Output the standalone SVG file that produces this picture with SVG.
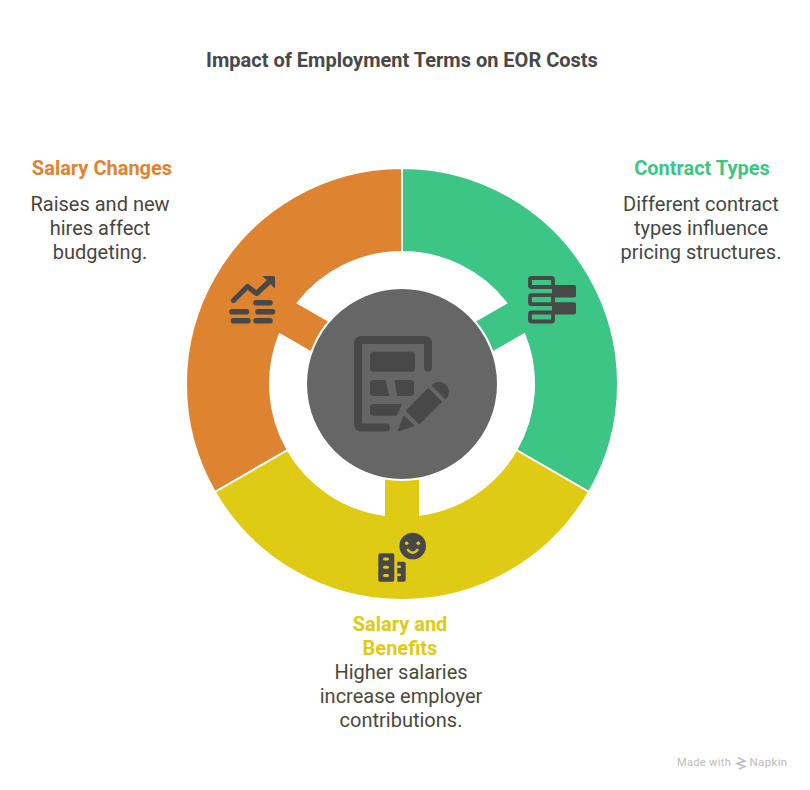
<svg xmlns="http://www.w3.org/2000/svg" width="810" height="790" viewBox="0 0 810 790">
<style>
text{font-family:Roboto,"Liberation Sans",sans-serif;text-anchor:middle}
.title{font-size:20px;font-weight:700;fill:#484848}
.head{font-size:20px;font-weight:700}
.body{font-size:20px}
.seg{stroke:#fff;stroke-width:2}
.ic{fill:#484848}
.ln{fill:none;stroke:#484848;stroke-linecap:round;stroke-linejoin:round}
</style>
<rect width="810" height="790" fill="#fff"/>
<text class="title" x="402" y="67">Impact of Employment Terms on EOR Costs</text>
<g id="connectors"/>
<g id="contract-types">
<path class="seg" fill="#3dc585" d="M402 168A216 216 0 0 1 589.1 492L516.3 450A132 132 0 0 0 524.3 334.2L492.7 352.45A96 96 0 0 0 474.7 321.25L506.3 303A132 132 0 0 0 402 252Z"/>
<g fill="#484848"><rect x="552" y="285" width="24" height="12.4" rx="2"/><rect x="552" y="302.2" width="24" height="12.2" rx="2"/></g>
<g fill="#3dc585" stroke="#484848" stroke-width="3.8"><rect x="530" y="278" width="23" height="9" rx="1.5"/><rect x="530" y="295.2" width="23" height="9" rx="1.5"/><rect x="530" y="312.5" width="23" height="9" rx="1.5"/></g>
<text class="head" x="702" y="175" fill="#3dc585">Contract Types</text>
<text class="body" x="701" y="211" fill="#3f4a45">Different contract</text>
<text class="body" x="701" y="235" fill="#3f4a45">types influence</text>
<text class="body" x="701" y="259" fill="#3f4a45">pricing structures.</text>
</g>
<g id="salary-changes">
<path class="seg" fill="#de8431" d="M402 168A216 216 0 0 0 214.9 492L287.7 450A132 132 0 0 1 279.7 334.2L311.3 352.45A96 96 0 0 1 329.3 321.25L297.7 303A132 132 0 0 1 402 252Z"/>
<path class="ln" stroke-width="5.2" d="M233.5 300.5L247.5 286.5L256.5 293.5L270 281"/>
<path class="ic" d="M262.5 276H273.5Q275 276 275 277.5V288.5Z"/>
<g class="ln" stroke-width="5.6"><path d="M256 302.7H270"/><path d="M232 311.7H246.5"/><path d="M258 311.7H272.5"/><path d="M233.5 320.7H248"/><path d="M256 320.7H270"/></g>
<text class="head" x="102" y="175" fill="#de8431">Salary Changes</text>
<text class="body" x="100" y="211" fill="#4a453e">Raises and new</text>
<text class="body" x="100" y="235" fill="#4a453e">hires affect</text>
<text class="body" x="100" y="259" fill="#4a453e">budgeting.</text>
</g>
<g id="salary-benefits">
<path class="seg" fill="#dfcb13" d="M589.1 492A216 216 0 0 1 214.9 492L287.7 450A132 132 0 0 0 384 514.8V478.3A96 96 0 0 0 420 478.3V514.8A132 132 0 0 0 516.3 450Z"/>
<circle class="ic" cx="412.7" cy="546" r="13.3"/>
<circle cx="406.7" cy="543.3" r="1.8" fill="#dfcb13"/><circle cx="418.3" cy="543.3" r="1.8" fill="#dfcb13"/>
<path d="M408 550Q412.7 555.5 417.5 550" fill="none" stroke="#dfcb13" stroke-width="2.6" stroke-linecap="round"/>
<rect class="ic" x="378.3" y="553.3" width="16" height="28.4" rx="2"/>
<path class="ic" d="M397.3 561.7H403.7Q405.7 561.7 405.7 563.7V579.7Q405.7 581.7 403.7 581.7H397.3Z"/>
<g fill="#dfcb13"><rect x="383" y="557.5" width="6" height="3" rx="1.5"/><rect x="383" y="565.7" width="6" height="3" rx="1.5"/><rect x="383" y="574" width="6" height="3" rx="1.5"/><rect x="397" y="565.5" width="4" height="2.6" rx="1.2"/><rect x="397" y="573.5" width="4" height="2.6" rx="1.2"/></g>
<text class="head" x="400" y="631" fill="#dfcb13">Salary and</text>
<text class="head" x="400" y="655" fill="#dfcb13">Benefits</text>
<text class="body" x="401" y="679" fill="#4a4a3a">Higher salaries</text>
<text class="body" x="401" y="703" fill="#4a4a3a">increase employer</text>
<text class="body" x="401" y="727" fill="#4a4a3a">contributions.</text>
</g>
<g id="center">
<circle cx="402" cy="384" r="95" fill="#666"/>
<path class="ln" stroke-width="8" d="M428 367.5V344Q428 340 424 340H362Q358 340 358 344V423.5Q358 427.5 362 427.5H386"/>
<rect class="ic" x="370" y="351.7" width="45" height="20" rx="3.5"/>
<path class="ic" d="M373 380H385.7L389.3 396H373Q370 396 370 393V383Q370 380 373 380Z"/>
<path class="ic" d="M394.3 380H411Q414 380 414 383V393Q414 396 411 396H397.3Z"/>
<path class="ic" d="M373 404H402L396.7 415.7H373Q370 415.7 370 412.7V407Q370 404 373 404Z"/>
<path class="ic" stroke="#484848" stroke-width="2" stroke-linejoin="round" d="M428.3 389.3L440.7 401.7L419.3 423L407 410.7Z"/>
<path class="ic" d="M431.7 385.5L433 384A10 10 0 0 1 447 398L445.5 399.5Z"/>
<path class="ic" stroke="#484848" stroke-width="1.5" stroke-linejoin="round" d="M404 416.5L413.5 425.5L398.5 430.5Z"/>
</g>
<text x="704" y="766" font-size="11" letter-spacing="0.35" fill="#bbb">Made with</text>
<text x="768.5" y="766" font-size="11.5" letter-spacing="0.35" fill="#bbb">Napkin</text>
<path d="M738 757.5L745 761L737 763.5L745 766.5L739 769" fill="none" stroke="#bbb" stroke-width="1.5"/>
</svg>
